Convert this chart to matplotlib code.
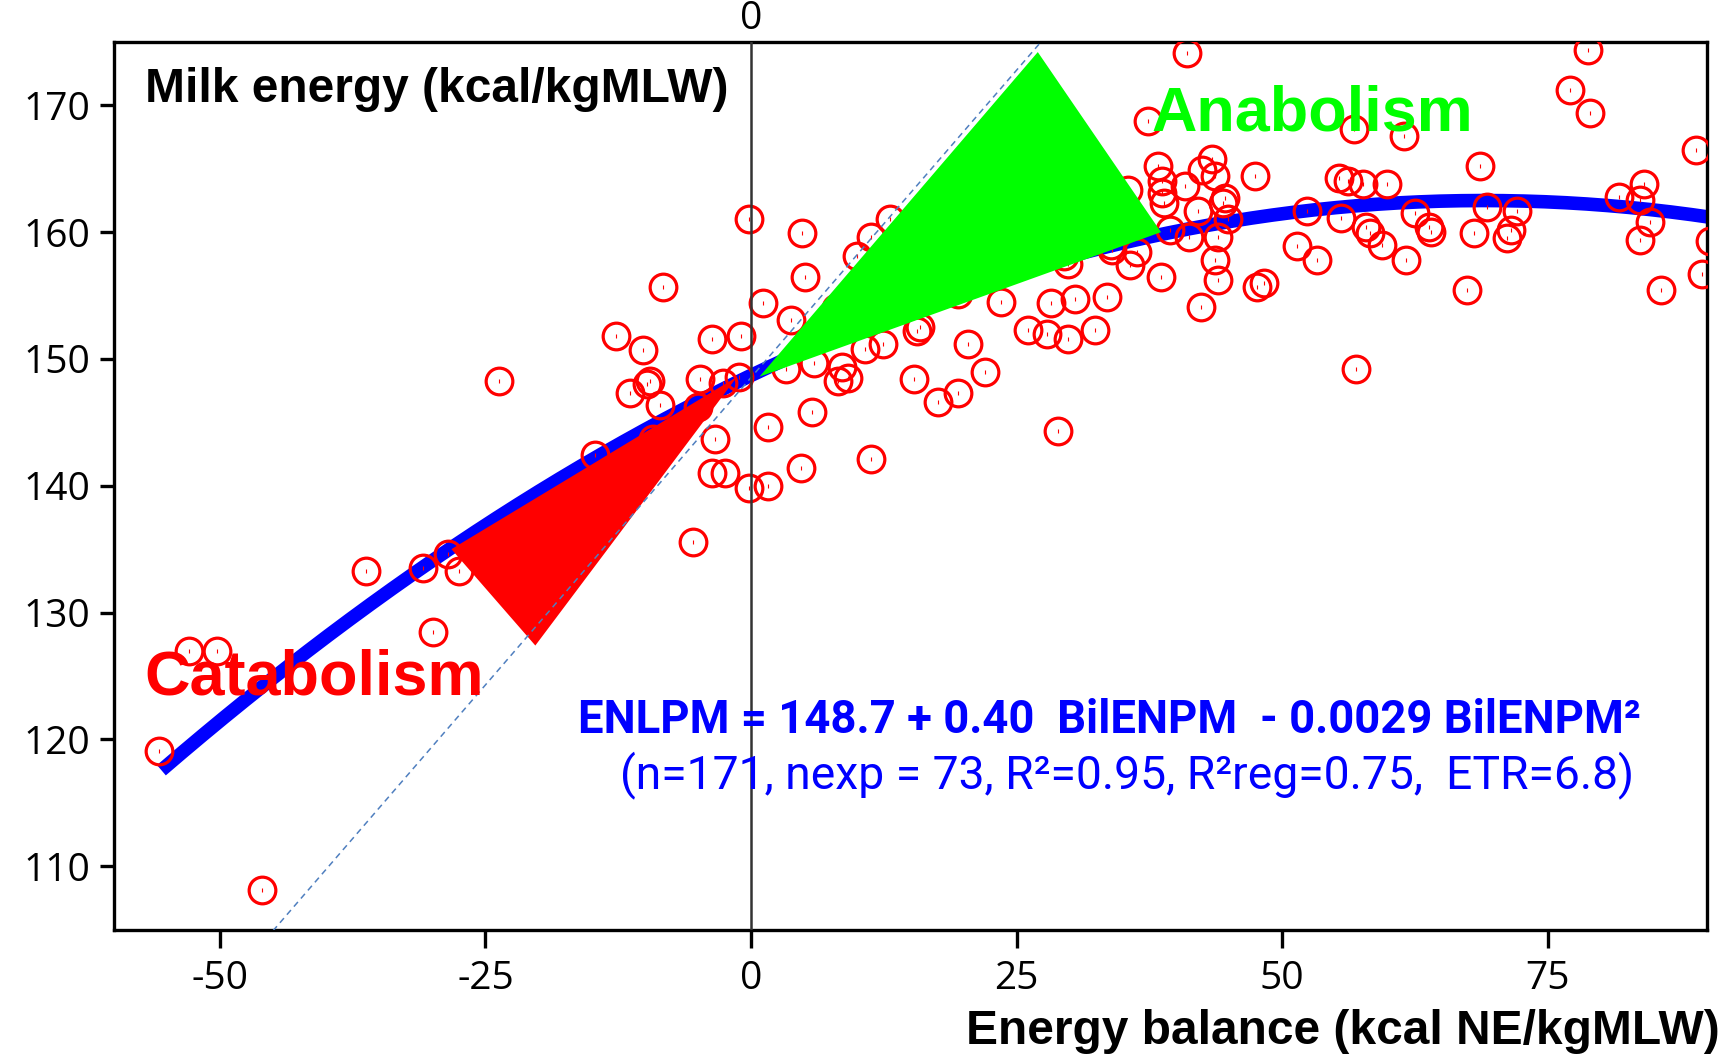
import numpy as np
import matplotlib
matplotlib.use("Agg")
import matplotlib.pyplot as plt
from matplotlib.patches import Polygon

plt.rcParams['axes.unicode_minus'] = False

# energy balance (kcal NE/kgMLW) and milk energy (kcal/kgMLW)
eb = [-55.7, -52.9, -50.3, -46.0, -36.2, -30.9, -29.9, -28.5, -27.5, -23.7,
      -14.7, -12.7, -11.4, -10.2, -9.8, -9.5, -8.6, -8.3, -9.2, -5.0,
      -4.8, -3.7, -3.4, -3.7, -2.4, -2.6, -1.1, -0.9, -0.2, -0.2,
      -5.5, 1.6, 1.6, 1.1, 3.8, 3.3, 4.7, 4.8, 5.1, 5.7,
      5.9, 8.2, 8.6, 9.1, 10.0, 10.7, 11.3, 11.3, 12.4, 13.1,
      15.3, 15.6, 15.9, 17.6, 19.5, 19.5, 20.4, 22.0, 26.1, 27.9,
      28.2, 28.9, 29.8, 29.5, 30.5, 32.4, 33.5, 33.9, 35.7, 36.3,
      35.5, 37.4, 38.3, 38.7, 38.7, 38.9, 38.6, 39.4, 40.9, 41.0,
      41.2, 42.1, 42.4, 42.5, 43.4, 43.7, 43.7, 44.0, 44.0, 44.4,
      44.6, 44.9, 47.4, 47.6, 48.3, 51.4, 52.3, 53.3, 55.4, 56.2,
      55.5, 56.8, 57.0, 57.6, 57.9, 58.3, 59.4, 59.9, 61.5, 61.7,
      62.5, 63.8, 64.0, 67.4, 68.1, 68.6, 69.3, 71.2, 71.5, 72.1,
      77.1, 78.8, 79.0, 81.7, 83.7, 84.1, 83.7, 84.6, 85.7, 89.0,
      89.5, 90.3, 34.0, 29.8, 8.0, 12.0, 14.5, 18.0, 21.0, 24.0,
      26.0, 30.5, 33.0, 23.5, 17.0, 13.5, -15.0, -12.0]
milk = [119.1, 127.0, 127.0, 108.1, 133.3, 133.5, 128.5, 134.6, 133.3, 148.3,
        142.4, 151.8, 147.3, 150.7, 148.0, 148.3, 146.4, 155.7, 143.7, 146.2,
        148.4, 151.6, 143.7, 141.0, 141.0, 148.1, 148.6, 151.8, 139.8, 161.0,
        135.6, 140.0, 144.6, 154.4, 153.1, 149.2, 141.4, 159.9, 156.5, 145.8,
        149.7, 148.3, 149.4, 148.5, 158.1, 150.8, 142.1, 159.6, 151.2, 161.0,
        148.4, 152.2, 152.5, 146.6, 147.3, 155.1, 151.2, 149.0, 152.3, 152.0,
        154.4, 144.3, 151.6, 158.1, 154.7, 152.3, 154.9, 159.0, 157.4, 158.4,
        163.3, 168.8, 165.2, 164.0, 163.1, 162.3, 156.5, 160.2, 163.6, 174.1,
        159.6, 161.7, 154.1, 164.9, 165.8, 164.4, 157.8, 159.6, 156.2, 162.3,
        162.7, 161.0, 164.4, 155.7, 156.0, 158.9, 161.7, 157.8, 164.3, 164.0,
        161.1, 168.1, 149.2, 163.8, 160.4, 159.9, 159.0, 163.8, 167.6, 157.8,
        161.5, 160.4, 160.0, 155.4, 159.9, 165.2, 162.0, 159.5, 160.2, 161.7,
        171.2, 174.4, 169.4, 162.8, 162.5, 163.8, 159.4, 160.8, 155.4, 166.5,
        156.7, 159.3, 158.6, 157.5, 154.0, 156.5, 157.5, 159.5, 157.0, 161.0,
        158.0, 162.0, 163.5, 154.5, 155.5, 153.8, 136.0, 141.5]

# quadratic fit printed on the chart
b0, b1, b2 = 148.7, 0.40, -0.0029
fit_range = [-55.5, 92.0]

# dashed reference line end points
ref_x = [-45.0, 27.3]
ref_y = [104.9, 175.0]

# arrow heads (triangles)
green_x = [0.8, 27.0, 38.6]
green_y = [148.6, 174.2, 160.0]
red_x = [-1.3, -28.2, -20.3]
red_y = [148.6, 135.0, 127.4]

xticks = [-50, -25, 0, 25, 50, 75]
yticks = [110, 120, 130, 140, 150, 160, 170]

fig = plt.figure(figsize=(17.29, 10.59), dpi=100)
ax = fig.add_axes([0.0657, 0.1222, 0.9216, 0.8382])

xf = np.linspace(fit_range[0], fit_range[1], 300)
ax.plot(xf, b0 + b1 * xf + b2 * xf ** 2, color='#0000ff', lw=9.8,
        solid_capstyle='butt', zorder=2)

ax.plot(eb, milk, 'o', ms=19.2, mfc='none', mec='#ff0000', mew=2.3, zorder=3)
ax.plot(eb, milk, '|', ms=3, mec='#ff0000', mew=0.8, zorder=3)

ax.add_patch(Polygon(np.column_stack([green_x, green_y]), closed=True,
                     fc='#00ff00', ec='none', zorder=4))
ax.add_patch(Polygon(np.column_stack([red_x, red_y]), closed=True,
                     fc='#ff0000', ec='none', zorder=4))

ax.plot(ref_x, ref_y, ls=(0, (4, 3)), color='#4f7fbf', lw=1.1, zorder=5)
ax.axvline(0, color='#333333', lw=1.8, zorder=6)

ax.set_xlim(-60, 90)
ax.set_ylim(105, 175)
ax.set_xticks(xticks)
ax.set_yticks(yticks)

for s in ax.spines.values():
    s.set_linewidth(2.4)
ax.tick_params(axis='both', width=2.4, direction='out')
ax.tick_params(axis='x', length=13, pad=9)
ax.tick_params(axis='y', length=10, pad=7)
for lab in ax.get_xticklabels() + ax.get_yticklabels():
    lab.set_family('Open Sans')
    lab.set_fontsize(28)

ax.annotate('0', xy=(0, 1), xycoords=('data', 'axes fraction'),
            xytext=(0, 16.5), textcoords='offset points', ha='center', va='center',
            family='Open Sans', fontsize=28)

ax.text(-57.0, 170.3, 'Milk energy (kcal/kgMLW)', family='Liberation Sans',
        fontweight='bold', fontsize=34.5, ha='left', va='baseline', zorder=7)
ax.text(37.7, 168.0, 'Anabolism', family='Liberation Sans', fontweight='bold',
        fontsize=45.3, color='#00ff00', ha='left', va='baseline', zorder=7)
ax.text(-57.1, 123.5, 'Catabolism', family='Liberation Sans', fontweight='bold',
        fontsize=45.4, color='#ff0000', ha='left', va='baseline', zorder=7)
ax.text(-16.3, 120.5, 'ENLPM = 148.7 + 0.40  BilENPM  - 0.0029 BilENPM²',
        family='Roboto', fontweight='bold', fontsize=32.8, color='#0000ff',
        ha='left', va='baseline', zorder=7)
ax.text(-12.3, 116.1, '(n=171, nexp = 73, R²=0.95, R²reg=0.75,  ETR=6.8)',
        family='Roboto', fontsize=33.3, color='#0000ff',
        ha='left', va='baseline', zorder=7)

fig.text(1720 / 1729, 1 - 1044 / 1059, 'Energy balance (kcal NE/kgMLW)',
         family='Liberation Sans', fontweight='bold', fontsize=34.5,
         ha='right', va='baseline')

fig.savefig('out.png', dpi=100)
